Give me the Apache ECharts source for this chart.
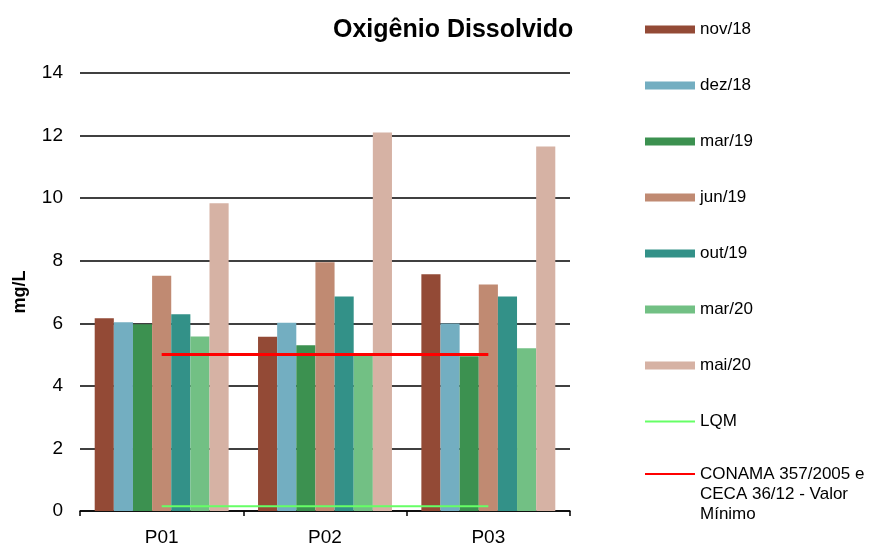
<!DOCTYPE html>
<html>
<head>
<meta charset="utf-8">
<script src="https://cdn.jsdelivr.net/npm/echarts@6/dist/echarts.min.js"></script>
<style>
  html, body { margin: 0; padding: 0; background: #fff; }
  #main { width: 882px; height: 559px; }
</style>
</head>
<body>
<div id="main"></div>
<script>
var categories = ['P01', 'P02', 'P03'];
var campaigns = ['nov/18', 'dez/18', 'mar/19', 'jun/19', 'out/19', 'mar/20', 'mai/20'];
var nov18 = [6.16, 5.57, 7.57];
var dez18 = [6.03, 6.02, 5.99];
var mar19 = [5.97, 5.30, 4.95];
var jun19 = [7.52, 7.95, 7.24];
var out19 = [6.29, 6.86, 6.86];
var mar20 = [5.58, 5.05, 5.20];
var mai20 = [9.84, 12.10, 11.65];
var lqm = [0.15, 0.15, 0.15];
var conama = [5, 5, 5];
var yTicks = [0, 2, 4, 6, 8, 10, 12, 14];

var barColors = ['#934a36', '#73aec1', '#3c9150', '#c08a72', '#339188', '#72c084', '#d6b2a4'];
var barValues = [nov18, dez18, mar19, jun19, out19, mar20, mai20];
var conamaName = 'CONAMA 357/2005 e\nCECA 36/12 - Valor\nMínimo';

var chartDom = document.getElementById('main');
var myChart = echarts.init(chartDom);

var series = [];
campaigns.forEach(function (name, i) {
  series.push({
    name: name,
    type: 'bar',
    data: barValues[i],
    barGap: 0,
    barCategoryGap: '18%',
    itemStyle: { color: barColors[i] }
  });
});
series.push({
  name: 'LQM',
  type: 'line',
  data: lqm,
  symbol: 'none',
  lineStyle: { color: '#66ff66', width: 2 },
  itemStyle: { color: '#66ff66' }
});
series.push({
  name: conamaName,
  type: 'line',
  data: conama,
  symbol: 'none',
  z: 5,
  lineStyle: { color: '#ff0000', width: 3 },
  itemStyle: { color: '#ff0000' }
});

var font = 'Liberation Sans';
var noDot = { opacity: 0 };

var option = {
  animation: false,
  title: {
    text: 'Oxigênio Dissolvido',
    left: 328,
    top: 13,
    textStyle: { fontFamily: font, fontSize: 25, fontWeight: 'bold', color: '#000' }
  },
  legend: [
    {
      orient: 'vertical',
      left: 639,
      top: 16,
      itemWidth: 50,
      itemHeight: 8,
      itemGap: 39,
      textStyle: { fontFamily: font, fontSize: 17, color: '#000' },
      data: campaigns.map(function (c) { return { name: c, icon: 'rect' }; })
        .concat([{ name: 'LQM', itemStyle: noDot }])
    },
    {
      // first text line sits beside the icon, the rest wraps below it
      orient: 'vertical',
      left: 639,
      top: 419,
      itemWidth: 50,
      itemHeight: 8,
      formatter: function (name) { return '\n\n' + name; },
      textStyle: { fontFamily: font, fontSize: 17, color: '#000', lineHeight: 20 },
      data: [{ name: conamaName, itemStyle: noDot }]
    }
  ],
  grid: { left: 80, right: 312, top: 73, bottom: 48 },
  xAxis: {
    type: 'category',
    data: categories,
    axisLine: { lineStyle: { color: '#000', width: 1.5 } },
    axisTick: { show: true, length: 5, lineStyle: { color: '#000', width: 1.5 } },
    axisLabel: { fontFamily: font, fontSize: 19, color: '#000', margin: 17 }
  },
  yAxis: {
    type: 'value',
    min: yTicks[0],
    max: yTicks[yTicks.length - 1],
    interval: 2,
    name: 'mg/L',
    nameLocation: 'middle',
    nameGap: 51,
    nameTextStyle: { fontFamily: font, fontSize: 18, fontWeight: 'bold', color: '#000' },
    axisLine: { show: false },
    axisTick: { show: false },
    axisLabel: { fontFamily: font, fontSize: 19, color: '#000', margin: 17 },
    splitLine: { lineStyle: { color: '#000', width: 1.5 } }
  },
  series: series
};

option && myChart.setOption(option);
</script>
</body>
</html>
